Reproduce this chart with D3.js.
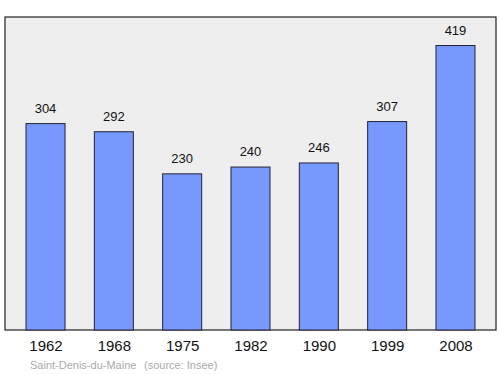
<!DOCTYPE html>
<html>
<head>
<meta charset="utf-8">
<script src="https://cdn.jsdelivr.net/npm/d3@7"></script>
<style>
  body { margin: 0; background: #fff; }
  text { font-family: "Liberation Sans", Arial, sans-serif; }
</style>
</head>
<body>
<svg id="chart" width="500" height="374"></svg>
<script>
var years = ["1962", "1968", "1975", "1982", "1990", "1999", "2008"];
var population = [304, 292, 230, 240, 246, 307, 419];
var town = "Saint-Denis-du-Maine";
var source = "(source: Insee)";

var plot_left = 5, plot_right = 496, plot_top = 17, plot_bottom = 330;
var bar_width = 39;

var svg = d3.select("#chart");

var x = d3.scalePoint().domain(years).range([plot_left, plot_right]).padding(0.593);
var y = d3.scaleLinear().domain([0, 461]).range([plot_bottom, plot_top]);

svg.append("rect")
    .attr("x", plot_left).attr("y", plot_top)
    .attr("width", plot_right - plot_left).attr("height", plot_bottom - plot_top)
    .attr("fill", "#eeeeee")
    .attr("stroke", "#222").attr("stroke-width", 1.2);

var bar = svg.selectAll("g.bar").data(population).enter()
    .append("g").attr("class", "bar");

bar.append("rect")
    .attr("x", (d, i) => x(years[i]) - bar_width / 2)
    .attr("y", (d) => y(d))
    .attr("width", bar_width)
    .attr("height", (d) => plot_bottom - y(d))
    .attr("fill", "#7799ff")
    .attr("stroke", "#223")
    .attr("stroke-width", 1);

bar.append("text")
    .attr("x", (d, i) => x(years[i]))
    .attr("y", (d) => y(d) - 11)
    .attr("text-anchor", "middle")
    .attr("font-size", 13)
    .attr("fill", "#111")
    .text((d) => d);

// x axis labels, no ticks or line
var axis = svg.append("g")
    .attr("transform", "translate(0," + plot_bottom + ")")
    .call(d3.axisBottom(x).tickSize(0).tickPadding(10));
axis.select(".domain").remove();
axis.selectAll("text")
    .attr("font-size", 15)
    .attr("fill", "#111")
    .style("font-family", "Liberation Sans, Arial, sans-serif");

svg.append("text")
    .attr("x", 30).attr("y", 369)
    .attr("font-size", 11)
    .attr("fill", "#aaaaaa")
    .text(town);
svg.append("text")
    .attr("x", 144).attr("y", 369)
    .attr("font-size", 11)
    .attr("fill", "#aaaaaa")
    .text(source);
</script>
</body>
</html>
